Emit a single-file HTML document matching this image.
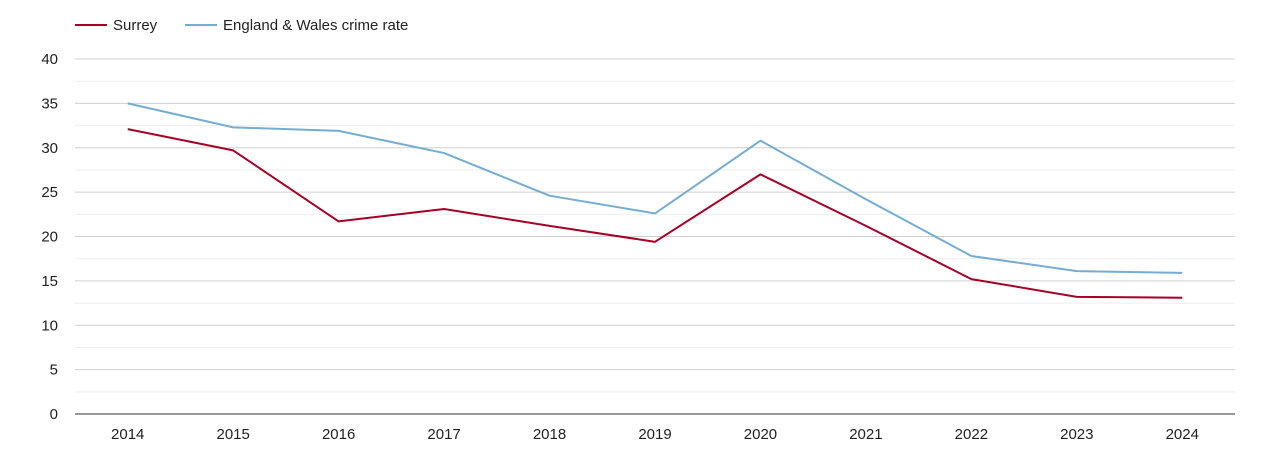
<!DOCTYPE html>
<html><head><meta charset="utf-8"><style>
body{margin:0;background:#fff;font-family:"Liberation Sans",sans-serif;}
svg text{font-family:"Liberation Sans",sans-serif;font-size:15px;fill:#222;}
</style></head><body>
<svg id="chart" width="1270" height="450">
<g>
<g><line x1="75" y1="25" x2="107" y2="25" stroke="#a50026" stroke-width="2"/><text x="113" y="30">Surrey</text></g>
<g><line x1="185" y1="25" x2="217" y2="25" stroke="#74add1" stroke-width="2"/><text x="223" y="30">England &amp; Wales crime rate</text></g>
</g>
<g id="grid"></g><g id="axes"></g><g id="series"></g>
</svg>
<script>
const years=["2014","2015","2016","2017","2018","2019","2020","2021","2022","2023","2024"];
const surrey=[32.1,29.7,21.7,23.1,21.2,19.4,27.0,21.2,15.2,13.2,13.1];
const englandWales=[35.0,32.3,31.9,29.4,24.6,22.6,30.8,24.2,17.8,16.1,15.9];
const yTicks=[0,5,10,15,20,25,30,35,40];
const NS="http://www.w3.org/2000/svg";
const L=75,R=1235,T=59,B=414,YMAX=40;
const band=(R-L)/years.length;
const x=i=>L+band*(i+0.5);
const y=v=>B-(v/YMAX)*(B-T);
function mk(tag,attrs,parent){const e=document.createElementNS(NS,tag);for(const k in attrs)e.setAttribute(k,attrs[k]);parent.appendChild(e);return e;}
const grid=document.getElementById('grid'),axes=document.getElementById('axes'),series=document.getElementById('series');
for(let v=0;v<YMAX;v+=2.5){if(v%5===0)continue;const l=mk('line',{x1:L,x2:R,y1:y(v),y2:y(v),stroke:'#eeeeee'},grid);

}
yTicks.forEach(v=>{if(v>0){const l=mk('line',{x1:L,x2:R,y1:y(v),y2:y(v),stroke:'#d0d0d0'},grid);

}
const t=mk('text',{x:58,y:y(v)+5,'text-anchor':'end'},axes);t.textContent=v;

});
const ax=mk('line',{x1:L,x2:R,y1:B,y2:B,stroke:'#333'},axes);


years.forEach((yr,i)=>{const t=mk('text',{x:x(i),y:439,'text-anchor':'middle'},axes);t.textContent=yr;

});
function line(data,color,name){const p=mk('polyline',{points:data.map((v,i)=>x(i)+','+y(v)).join(' '),fill:'none',stroke:color,'stroke-width':2,'stroke-linejoin':'round'},series);

}
line(englandWales,'#74add1','england-wales-line');
line(surrey,'#a50026','surrey-line');
</script>
</body></html>
